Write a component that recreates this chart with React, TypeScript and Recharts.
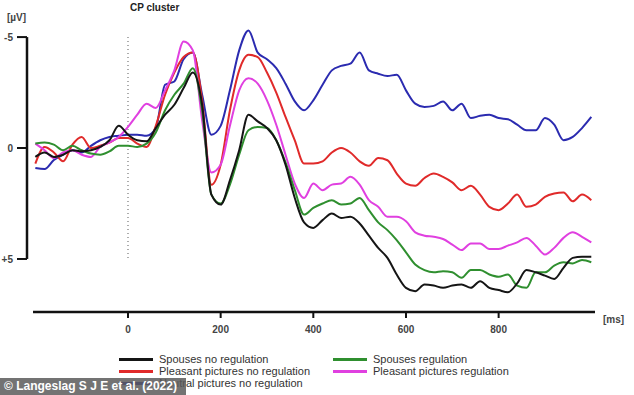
import React from "react";
import { LineChart, Line, XAxis, YAxis, ReferenceLine } from "recharts";

// time points (ms), every 20 ms
const times = [
  -200, -180, -160, -140, -120, -100, -80, -60, -40, -20,
  0, 20, 40, 60, 80, 100, 120, 140, 160, 180,
  200, 220, 240, 260, 280, 300, 320, 340, 360, 380,
  400, 420, 440, 460, 480, 500, 520, 540, 560, 580,
  600, 620, 640, 660, 680, 700, 720, 740, 760, 780,
  800, 820, 840, 860, 880, 900, 920, 940, 960, 980, 1000,
];

// amplitudes in µV (negative up)
const spousesNoReg = [
  0.4, 0.2, 0.4, 0.3, 0.1, 0.15, 0.1, -0.05, -0.35, -1.0,
  -0.6, -0.35, -0.3, -0.9, -1.5, -1.95, -2.7, -3.4, -1.95, 2.1,
  2.55, 1.45, 0.1, -1.5, -1.2, -0.9, -0.35, 0.75, 2.25, 3.35,
  3.6, 3.25, 2.95, 3.15, 3.1, 3.4, 3.95, 4.5, 4.95, 5.7,
  6.3, 6.45, 6.15, 6.2, 6.3, 6.2, 6.15, 6.3, 6.0, 6.3,
  6.4, 6.5, 6.1, 5.5, 5.6, 5.75, 5.9, 5.4, 4.95, 4.9, 4.9,
];
const pleasantNoReg = [
  0.7, -0.05, 0.2, 0.6, -0.15, -0.5, 0.0, -0.1, -0.25, -0.45,
  -0.45, -0.2, -0.05, -1.0, -2.4, -3.4, -4.1, -4.3, -2.15, 1.65,
  0.75, -1.7, -3.5, -4.2, -4.1, -3.4, -2.5, -1.4, -0.35, 0.7,
  0.7, 0.6, 0.2, 0.0, 0.2, 0.6, 0.8, 0.45, 0.55, 1.15,
  1.6, 1.7, 1.35, 1.15, 1.3, 1.55, 1.9, 1.7, 2.1, 2.65,
  2.8, 2.5, 2.1, 2.65, 2.55, 2.2, 2.05, 2.0, 2.4, 2.1, 2.35,
];
const neutralNoReg = [
  0.9, 0.95, 0.54, 0.3, 0.1, 0.2, -0.1, -0.35, -0.5, -0.55,
  -0.6, -0.6, -0.55, -0.9, -2.85, -3.0, -4.0, -4.3, -2.4, -0.6,
  -1.0, -2.6, -4.4, -5.3, -4.3, -4.0, -3.6, -2.9, -2.1, -1.7,
  -2.15, -2.85, -3.5, -3.7, -3.8, -4.3, -3.5, -3.35, -3.25, -3.3,
  -2.6, -2.0, -1.85, -1.9, -2.1, -1.7, -2.0, -1.35, -1.45, -1.5,
  -1.35, -1.3, -1.05, -0.8, -0.8, -1.35, -1.05, -0.35, -0.5, -0.9, -1.4,
];
const spousesReg = [
  -0.2, -0.25, -0.15, 0.1, -0.1, 0.1, 0.25, 0.3, 0.15, -0.1,
  -0.1, -0.05, -0.2, -0.7, -1.7, -2.4, -2.9, -3.6, -1.7, 2.1,
  2.5, 1.65, 0.3, -0.8, -0.95, -0.9, -0.35, 0.65, 1.9, 3.0,
  2.7, 2.5, 2.35, 2.55, 2.5, 2.25, 2.8, 3.35, 3.7, 4.15,
  4.7, 5.25, 5.5, 5.6, 5.55, 5.6, 5.85, 5.5, 5.5, 5.7,
  5.8, 5.7, 6.2, 6.3, 5.6, 5.6, 5.3, 5.15, 5.2, 5.05, 5.15,
];
const pleasantReg = [
  -0.2, 0.1, 0.45, 0.2, 0.1, 0.3, 0.4, -0.05, -0.25, -0.5,
  -0.95, -1.5, -2.0, -1.8, -2.6, -3.5, -4.8, -4.4, -1.25, 1.1,
  0.75, -1.0, -2.6, -3.15, -2.9, -2.15, -1.05, 0.3, 1.6, 2.25,
  1.6, 1.9, 1.65, 1.6, 1.3, 1.65, 2.35, 2.65, 3.1, 3.1,
  3.3, 3.8, 3.95, 4.0, 4.1, 4.35, 4.6, 4.3, 4.3, 4.55,
  4.55, 4.4, 4.25, 4.05, 4.4, 4.8, 4.5, 4.05, 3.8, 4.0, 4.25,
];

const xTicks = [0, 200, 400, 600, 800];
const yTicks = [-5, 0, 5];

const legendItems = [
  { label: "Spouses no regulation", color: "#151515", col: 0, row: 0 },
  { label: "Pleasant pictures no regulation", color: "#e02a2a", col: 0, row: 1 },
  { label: "Neutral pictures no regulation", color: "#2b2bb0", col: 0, row: 2 },
  { label: "Spouses regulation", color: "#2f8f2f", col: 1, row: 0 },
  { label: "Pleasant pictures regulation", color: "#e040e0", col: 1, row: 1 },
];

const data = times.map((t, i) => ({
  t,
  spNo: spousesNoReg[i],
  plNo: pleasantNoReg[i],
  neNo: neutralNoReg[i],
  spReg: spousesReg[i],
  plReg: pleasantReg[i],
}));

const FONT = '"Liberation Sans", Arial, sans-serif';

export default function App() {
  return (
    <div style={{ position: "absolute", left: 0, top: 0, width: 634, height: 395, background: "#fff", fontFamily: FONT }}>
      <LineChart width={634} height={395} data={data} margin={{ top: 20, right: 39, bottom: 53, left: 0 }}>
        <XAxis
          dataKey="t"
          type="number"
          domain={[-218, 1008]}
          ticks={xTicks}
          axisLine={false}
          tickLine={{ stroke: "#111", strokeWidth: 2 }}
          tickSize={6}
          tickMargin={8}
          tick={{ fontSize: 10, fontWeight: 700, fill: "#444", fontFamily: FONT }}
          height={30}
        />
        <YAxis
          type="number"
          reversed
          domain={[-5.77, 7.39]}
          ticks={yTicks}
          width={27}
          axisLine={false}
          tickLine={{ stroke: "#111", strokeWidth: 2 }}
          tickSize={10}
          tickMargin={4}
          tickFormatter={(v: number) => (v > 0 ? `+${v}` : `${v}`)}
          tick={{ fontSize: 10, fontWeight: 700, fill: "#444", fontFamily: FONT }}
        />
        <ReferenceLine segment={[{ x: -218, y: -5 }, { x: -218, y: 5 }]} stroke="#111" strokeWidth={2.5} />
        <ReferenceLine segment={[{ x: -205, y: 7.39 }, { x: 1008, y: 7.39 }]} stroke="#111" strokeWidth={2.5} />
        <ReferenceLine segment={[{ x: 0, y: -5 }, { x: 0, y: 5 }]} stroke="#777" strokeWidth={1.2} strokeDasharray="1 3" />
        <Line type="monotone" dataKey="neNo" stroke="#2b2bb0" strokeWidth={2} dot={false} isAnimationActive={false} />
        <Line type="monotone" dataKey="plNo" stroke="#e02a2a" strokeWidth={2} dot={false} isAnimationActive={false} />
        <Line type="monotone" dataKey="plReg" stroke="#e040e0" strokeWidth={2} dot={false} isAnimationActive={false} />
        <Line type="monotone" dataKey="spReg" stroke="#2f8f2f" strokeWidth={2} dot={false} isAnimationActive={false} />
        <Line type="monotone" dataKey="spNo" stroke="#151515" strokeWidth={2} dot={false} isAnimationActive={false} />
      </LineChart>

      <div style={{ position: "absolute", left: 130, top: 2, fontSize: 10, fontWeight: 700, color: "#222" }}>CP cluster</div>
      <div style={{ position: "absolute", left: 7, top: 12, fontSize: 10, fontWeight: 700, color: "#444" }}>[µV]</div>
      <div style={{ position: "absolute", left: 603, top: 314, fontSize: 10, fontWeight: 700, color: "#444" }}>[ms]</div>

      {legendItems.map((it) => (
        <div
          key={it.label}
          style={{
            position: "absolute",
            left: it.col === 0 ? 119 : 333,
            top: 353 + it.row * 12,
            display: "flex",
            alignItems: "center",
            fontSize: 11,
            lineHeight: "12px",
            color: "#333",
            whiteSpace: "nowrap",
          }}
        >
          <span style={{ display: "inline-block", width: 34, height: 3, background: it.color, marginRight: 6 }} />
          {it.label}
        </div>
      ))}

      <div
        style={{
          position: "absolute",
          left: 0,
          top: 378,
          width: 186,
          height: 17,
          background: "rgba(90,90,90,0.85)",
          color: "#fff",
          fontSize: 12,
          fontWeight: 700,
          lineHeight: "17px",
          paddingLeft: 4,
          boxSizing: "border-box",
          whiteSpace: "nowrap",
        }}
      >
        © Langeslag S J E et al. (2022)
      </div>
    </div>
  );
}
